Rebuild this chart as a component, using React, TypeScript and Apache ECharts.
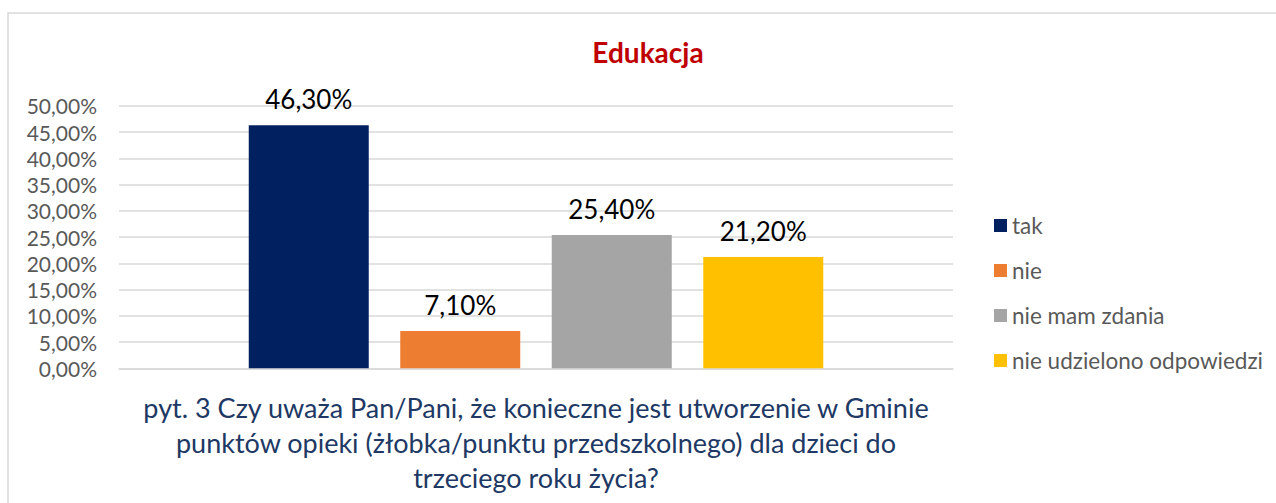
import React, { useEffect, useRef } from "react";
import * as echarts from "echarts";

const seriesNames = ["tak", "nie", "nie mam zdania", "nie udzielono odpowiedzi"];
const seriesValues = [46.3, 7.1, 25.4, 21.2];
const seriesColors = ["#002060", "#ED7D31", "#A5A5A5", "#FFC000"];
const categories = [""];
const chartTitle = "Edukacja";
const axisTitle =
  "pyt. 3 Czy uważa Pan/Pani, że konieczne jest utworzenie w Gminie\npunktów opieki (żłobka/punktu przedszkolnego) dla dzieci do\ntrzeciego roku życia?";

const FONT = "Lato, 'Open Sans', sans-serif";
const fmt = (v: number) => v.toFixed(2).replace(".", ",") + "%";

export default function App() {
  const ref = useRef<HTMLDivElement>(null);
  useEffect(() => {
    if (!ref.current) return;
    const chart = echarts.init(ref.current, null, { renderer: "svg" });
    chart.setOption({
      animation: false,
      backgroundColor: "#ffffff",
      textStyle: { fontFamily: FONT },
      title: {
        text: chartTitle,
        left: 643,
        textAlign: "center",
        top: 33,
        textStyle: { fontFamily: FONT, fontSize: 28, fontWeight: "bold", color: "#C00000" },
      },
      legend: {
        orient: "vertical",
        left: 994,
        top: 213.5,
        icon: "rect",
        itemWidth: 13,
        itemHeight: 13,
        itemGap: 21,
        padding: 0,
        data: seriesNames,
        textStyle: { fontFamily: FONT, fontSize: 22.5, color: "#595959", lineHeight: 24 },
      },
      grid: { left: 119, right: 323, top: 105.8, bottom: 134.7, containLabel: false },
      xAxis: {
        type: "category",
        data: categories,
        axisLine: { show: true, lineStyle: { color: "#d9d9d9", width: 1.5 } },
        axisTick: { show: false },
        axisLabel: { show: false },
        name: axisTitle,
        nameLocation: "middle",
        nameGap: 22,
        nameTextStyle: {
          fontFamily: FONT,
          fontSize: 27,
          lineHeight: 35,
          color: "#203864",
          align: "center",
          verticalAlign: "top",
        },
      },
      yAxis: {
        type: "value",
        min: 0,
        max: 50,
        interval: 5,
        axisLine: { show: false },
        axisTick: { show: false },
        axisLabel: {
          formatter: (v: number) => fmt(v),
          fontFamily: FONT,
          fontSize: 21,
          color: "#595959",
          margin: 22,
        },
        splitLine: { lineStyle: { color: "#d9d9d9", width: 1.5 } },
      },
      series: seriesNames.map((name, i) => ({
        name,
        type: "bar",
        data: [seriesValues[i]],
        barWidth: 120,
        barGap: "26.25%",
        itemStyle: { color: seriesColors[i] },
        label: {
          show: true,
          position: "top",
          distance: 13,
          formatter: (p: any) => fmt(p.value),
          fontFamily: FONT,
          fontSize: 26,
          color: "#000000",
        },
      })),
      graphic: [
        {
          type: "rect",
          shape: { x: 8, y: 13, width: 1400, height: 700 },
          style: { fill: "none", stroke: "#d9d9d9", lineWidth: 1.5 },
          silent: true,
          z: -1,
        },
      ],
    });
    return () => chart.dispose();
  }, []);
  return (
    <div
      ref={ref}
      style={{ position: "absolute", left: 0, top: 0, width: 1276, height: 503 }}
    />
  );
}
